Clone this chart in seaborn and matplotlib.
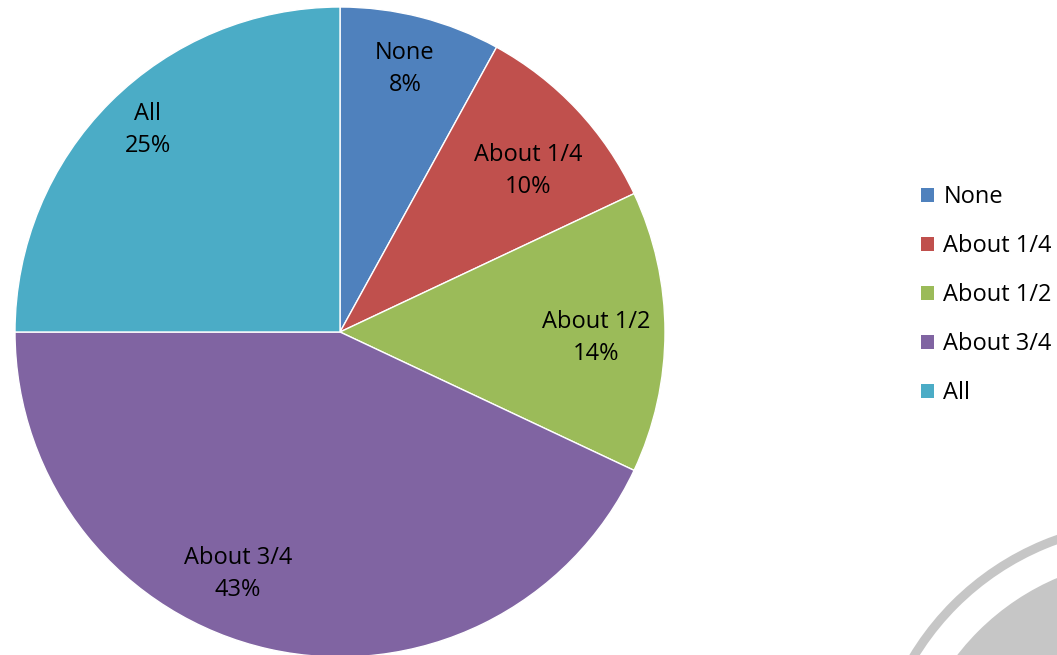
import matplotlib
matplotlib.use("Agg")
import matplotlib.pyplot as plt
import seaborn as sns
from matplotlib.patches import Patch, Wedge, Circle

sns.set_theme(style="white")
plt.rcParams['font.family'] = ['Open Sans', 'DejaVu Sans']

categories = ['None', 'About 1/4', 'About 1/2', 'About 3/4', 'All']
shares = [8, 10, 14, 43, 25]
colors = ['#4F81BD', '#C0504D', '#9BBB59', '#8064A2', '#4BACC6']

# where the data labels sit, in units of the pie radius
label_xy = [(0.20, 0.81), (0.578, 0.495), (0.788, -0.018), (-0.314, -0.745), (-0.591, 0.622)]

W, H = 1057, 655
fig = plt.figure(figsize=(W / 100, H / 100), dpi=100)

# faint compass watermark in the lower right corner
bg = fig.add_axes([0, 0, 1, 1])
bg.set_xlim(0, W)
bg.set_ylim(H, 0)
bg.axis('off')
bg.add_patch(Wedge((1150, 800), 281, 0, 360, width=9, color='#C6C6C6', lw=0))
bg.add_patch(Circle((1155, 808), 250, color='#C6C6C6', lw=0))

# pie
cx, cy, r = 340, 332, 325
ax = fig.add_axes([(cx - r) / W, (H - cy - r) / H, 2 * r / W, 2 * r / H])
wedges, _ = ax.pie(shares, colors=colors, startangle=90, counterclock=False,
                   radius=1, wedgeprops=dict(edgecolor='white', linewidth=1))
ax.set_xlim(-1, 1)
ax.set_ylim(-1, 1)
ax.set_aspect('equal')

for (x, y), cat, val in zip(label_xy, categories, shares):
    ax.text(x, y, f"{cat}\n{val}%", ha='center', va='center',
            fontsize=17, color='black', linespacing=1.45)

handles = [Patch(facecolor=c, edgecolor='none') for c in colors]
fig.legend(handles, categories, loc='upper left', bbox_to_anchor=(921 / W, 1 - 185 / H),
           frameon=False, fontsize=17, handlelength=0.55, handleheight=0.55,
           handletextpad=0.4, labelspacing=1.06, borderpad=0, borderaxespad=0,
           labelcolor='black')

fig.savefig('out.png', dpi=100)
